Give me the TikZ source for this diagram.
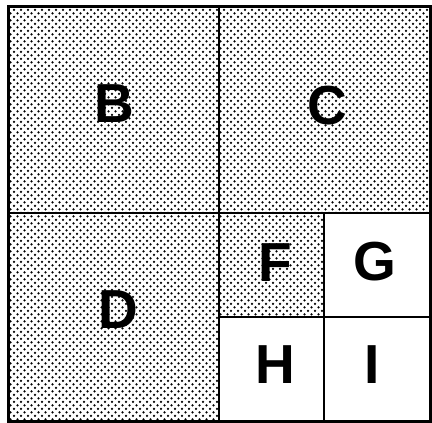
\documentclass[tikz,border=0pt]{standalone}
\usepackage{fontspec}
\setmainfont{Liberation Sans}
\usepackage{tikz}
\usetikzlibrary{patterns}

\pgfdeclarepatternformonly{stipple}{\pgfpoint{-2pt}{-2pt}}{\pgfpoint{6pt}{6pt}}{\pgfpoint{7pt}{7pt}}{%
  \pgfpathcircle{\pgfpoint{0pt}{0pt}}{1.25pt}%
  \pgfpathcircle{\pgfpoint{3.5pt}{3.5pt}}{1.25pt}%
  \pgfusepath{fill}}

\begin{document}
\begin{tikzpicture}[x=1pt,y=-1pt,
    letter/.style={font=\fontsize{55}{55}\selectfont\bfseries, inner sep=0pt},
    wall/.style={line width=2.2pt},
    frame/.style={line width=3pt}]
\useasboundingbox (0,0) rectangle (432,423);
% corners of the grid
\coordinate (tl) at (8,6);
\coordinate (br) at (430,421);
\coordinate (mid) at (219,213);
\coordinate (sub) at (324,317);
% shaded part
\fill[pattern=stipple] (8,6) -- (430,6) -- (430,213) -- (324,213) -- (324,317)
    -- (219,317) -- (219,421) -- (8,421) -- cycle;
% walls
\draw[wall] (mid |- tl) -- (mid |- br);
\draw[wall] (mid -| tl) -- (mid -| br);
\draw[wall] (sub |- mid) -- (sub |- br);
\draw[wall] (sub -| mid) -- (sub -| br);
\draw[frame] (tl) rectangle (br);
% labels
\node[letter] (B) at (114,104) {B};
\node[letter] (C) at (327,106) {C};
\node[letter] (D) at (118,310) {D};
\node[letter] (F) at (275,263) {F};
\node[letter] (G) at (375,262) {G};
\node[letter] (H) at (275,365) {H};
\node[letter] (I) at (372,365) {I};
\end{tikzpicture}
\end{document}
